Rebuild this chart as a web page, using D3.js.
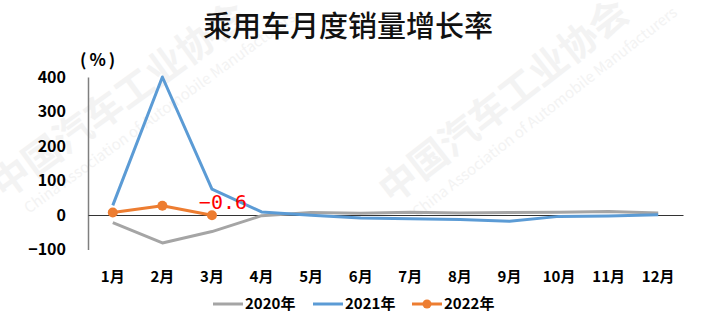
<!DOCTYPE html>
<html>
<head>
<meta charset="utf-8">
<script src="https://cdn.jsdelivr.net/npm/d3@7"></script>
<style>
  body { margin: 0; background: #fff; }
  svg { display: block; }
</style>
</head>
<body>
<div id="chart"></div>
<script>
// monthly sales growth of passenger cars (%)
const months = ['1月','2月','3月','4月','5月','6月','7月','8月','9月','10月','11月','12月'];
const y2020 = [-22, -81, -48, -2, 7, 5, 8, 6, 7, 8, 10, 6];
const y2021 = [28, 400, 75, 9, -1, -9, -11, -13, -18, -4, -3, 1];
const y2022 = [7, 27, -0.6];
const yTicks = [-100, 0, 100, 200, 300, 400];
const seriesNames = ['2020年', '2021年', '2022年'];
const seriesColors = ['#a5a5a5', '#5b9bd5', '#ed7d31'];

const W = 711, H = 333;
const svg = d3.select('#chart').append('svg').attr('width', W).attr('height', H);
const font = '"Noto Sans CJK SC", "Noto Sans", sans-serif';

// faint watermark
const wm = svg.append('g').attr('fill', '#f3f3f3').style('font-family', font);
[[4, 200, 36], [392, 205, 38]].forEach(([x, y, a]) => {
  const g = wm.append('g').attr('transform', `translate(${x},${y}) rotate(${-a})`);
  g.append('text').attr('font-size', 38).attr('font-weight', 700).text('中国汽车工业协会');
  g.append('text').attr('x', 12).attr('y', 26).attr('font-size', 15).text('China Association of Automobile Manufacturers');
});

const x = d3.scaleBand().domain(months).range([88, 683]);
const y = d3.scaleLinear().domain([-100, 400]).range([249.5, 77]);
const cx = m => x(m) + x.bandwidth() / 2;

// title
svg.append('text').attr('x', 348).attr('y', 37).attr('text-anchor', 'middle')
  .style('font-family', font).attr('font-size', 29).attr('font-weight', 500)
  .attr('fill', '#111').text('乘用车月度销量增长率');

svg.append('text').attr('x', 80).attr('y', 66)
  .style('font-family', font).attr('font-size', 17).attr('font-weight', 700)
  .attr('letter-spacing', 3).text('(%)');

// y axis
const yAxis = svg.append('g').attr('transform', 'translate(88,0)')
  .call(d3.axisLeft(y).tickValues(yTicks).tickSize(0).tickPadding(22));
yAxis.select('.domain').attr('stroke', '#7f7f7f').attr('stroke-width', 1.5);
yAxis.selectAll('text').style('font-family', font).attr('font-size', 16)
  .attr('font-weight', 700).attr('fill', '#000');

// x axis along zero line
const xAxis = svg.append('g').attr('transform', `translate(0,${y(0)})`)
  .call(d3.axisBottom(x).tickSize(0));
xAxis.select('.domain').attr('stroke', '#333').attr('stroke-width', 1);
xAxis.selectAll('text').attr('y', y(-100) - y(0) + 22)
  .style('font-family', font).attr('font-size', 15)
  .attr('font-weight', 700).attr('fill', '#000');

const line = d3.line().x((d, i) => cx(months[i])).y(d => y(d));
[y2020, y2021, y2022].forEach((data, k) => {
  svg.append('path').datum(data).attr('d', line).attr('fill', 'none')
    .attr('stroke', seriesColors[k]).attr('stroke-width', 3)
    .attr('stroke-linejoin', 'round');
});
svg.selectAll('circle.p22').data(y2022).enter().append('circle')
  .attr('cx', (d, i) => cx(months[i])).attr('cy', d => y(d)).attr('r', 5)
  .attr('fill', seriesColors[2]);

// data label
svg.append('text').attr('x', cx(months[2]) + 11).attr('y', y(y2022[2]) - 6)
  .attr('text-anchor', 'middle')
  .style('font-family', '"DejaVu Sans Mono", monospace').attr('font-size', 20)
  .attr('fill', '#ff0000').text('−0.6');

// legend
const legend = svg.append('g').style('font-family', font);
const lx = [213, 313, 412];
seriesNames.forEach((name, k) => {
  const g = legend.append('g').attr('transform', `translate(${lx[k]},304)`);
  g.append('line').attr('x1', 0).attr('x2', 30).attr('stroke', seriesColors[k]).attr('stroke-width', 3);
  if (k === 2) g.append('circle').attr('cx', 15).attr('r', 4.5).attr('fill', seriesColors[k]);
  g.append('text').attr('x', 32).attr('dy', '0.35em').attr('font-size', 15)
    .attr('font-weight', 700).text(name);
});
</script>
</body>
</html>
